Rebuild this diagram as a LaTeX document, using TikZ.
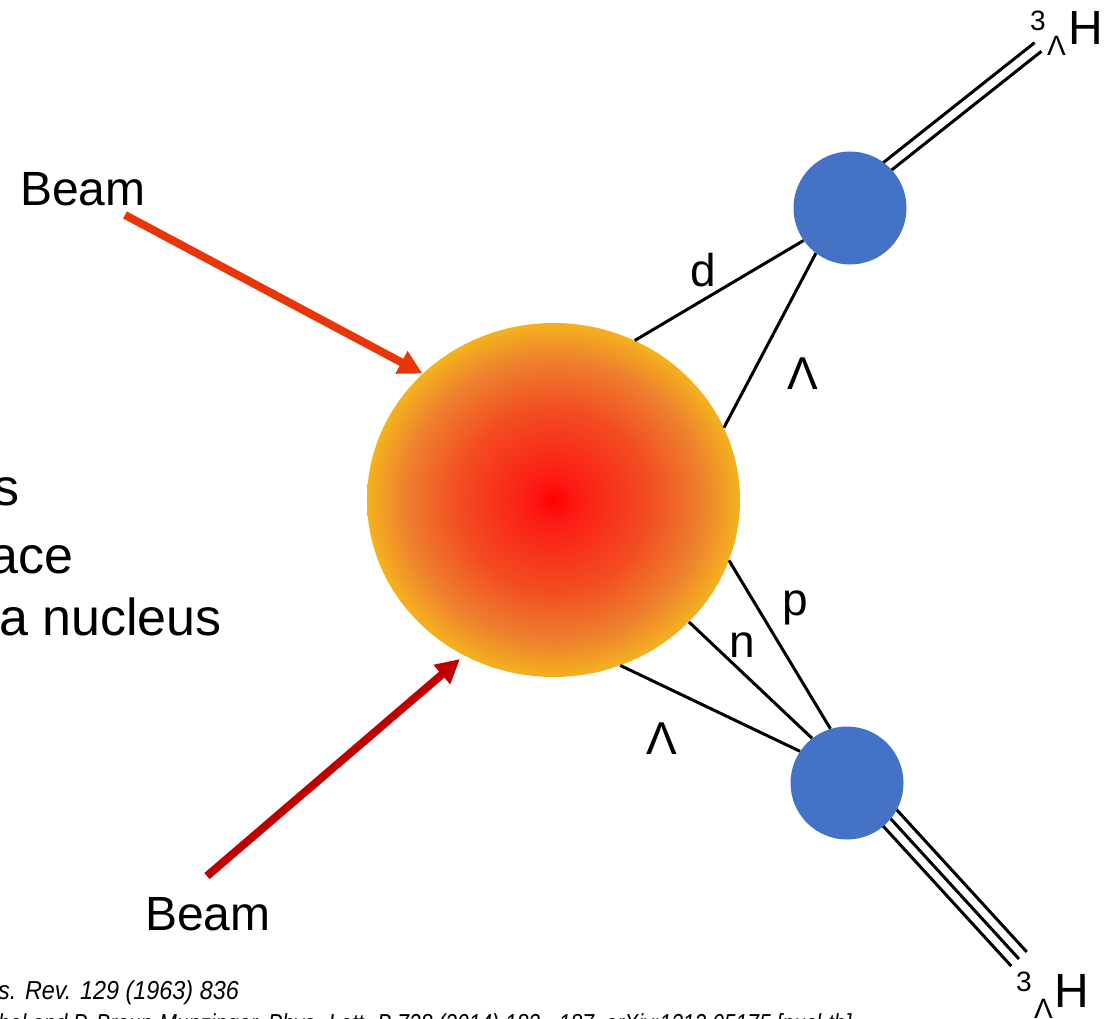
\documentclass[tikz,border=0pt]{standalone}
\usepackage{fontspec}
\usepackage{graphicx}
\setmainfont{Liberation Sans}
\usetikzlibrary{shapes.geometric,arrows.meta,calc,backgrounds}
\definecolor{fbA}{HTML}{FF0000}
\definecolor{fbB}{HTML}{FC1A14}
\definecolor{fbC}{HTML}{F24E22}
\definecolor{fbD}{HTML}{EE812E}
\definecolor{fbE}{HTML}{F4B21E}
\definecolor{nucblue}{HTML}{4472C4}
\definecolor{beamA}{HTML}{E8350A}
\definecolor{beamB}{HTML}{C00000}
\pgfdeclareradialshading{fireball}{\pgfpoint{0bp}{0bp}}{color(0bp)=(fbA); color(3bp)=(fbB); color(13bp)=(fbC); color(20bp)=(fbD); color(25bp)=(fbE); color(50bp)=(fbE)}
\begin{document}
\begin{tikzpicture}[x=1pt,y=-1pt,
  beamtext/.style={font=\fontsize{48}{58}\selectfont, inner sep=0pt},
  bigtext/.style={font=\fontsize{52}{62}\selectfont, inner sep=0pt},
  lbl/.style={font=\fontsize{46}{56}\selectfont, inner sep=0pt},
  htext/.style={font=\fontsize{48}{58}\selectfont, inner sep=0pt},
  suptext/.style={font=\fontsize{28}{32}\selectfont, inner sep=0pt},
  subtext/.style={font=\fontsize{28}{32}\selectfont, inner sep=0pt},
  citetext/.style={font=\fontsize{26}{30}\selectfont\itshape, inner sep=0pt},
  nuc/.style={circle, fill=nucblue, inner sep=0pt, minimum size=113pt},
  conn/.style={line width=3pt, black},
  beamarrow/.style={line width=8pt, -{Triangle[length=24pt,width=24pt]}}
]
\useasboundingbox (0,0) rectangle (1105,1019);
\clip (0,0) rectangle (1105,1019);

% fireball
\node[ellipse, shading=fireball, inner sep=0pt, minimum width=373pt, minimum height=354pt] (fb) at (553.5,500) {};

% hypertriton clusters
\node[nuc] (ht) at (850,208) {};
\node[nuc] (hb) at (847,783) {};

% outgoing lines (behind clusters)
\coordinate (hta) at (850,196);
\coordinate (htz) at (1038,47);
\coordinate (hba) at (847,771);
\coordinate (hbz) at (1019,959);
\begin{scope}[on background layer]
  \draw[conn] ($(hta)!5.5pt!90:(htz)$) -- ($(htz)!5.5pt!-90:(hta)$);
  \draw[conn] ($(hta)!5.5pt!-90:(htz)$) -- ($(htz)!5.5pt!90:(hta)$);
  \draw[conn] (hba) -- (hbz);
  \draw[conn] ($(hba)!10.5pt!90:(hbz)$) -- ($(hbz)!10.5pt!-90:(hba)$);
  \draw[conn] ($(hba)!10.5pt!-90:(hbz)$) -- ($(hbz)!10.5pt!90:(hba)$);
\end{scope}

% constituent lines
\draw[conn] (fb.63.3) -- (ht.215.4);
\draw[conn] (fb.23.4) -- (ht.233.7);
\draw[conn] (fb.-19.9) -- (hb.107);
\draw[conn] (fb.-42.8) -- (hb.128);
\draw[conn] (fb.-68) -- (hb.146.6);

% labels
\node[lbl, anchor=base] (ld) at (703,286) {d};
\node[lbl, anchor=base] (lL1) at (803,389) {Λ};
\node[lbl, anchor=base] (lp) at (795,615) {p};
\node[lbl, anchor=base] (ln) at (742,657) {n};
\node[lbl, anchor=base] (lL2) at (662,754) {Λ};

% hypertriton names
\node[htext, anchor=base west] (hH1) at (1068,45) {H};
\node[suptext, anchor=base west] (h31) at (1030,31) {3};
\node[subtext, anchor=base west] (hL1) at (1047,56) {Λ};
\node[htext, anchor=base west] (hH2) at (1054,1007) {H};
\node[suptext, anchor=base west] (h32) at (1016,991) {3};
\node[subtext, anchor=base west] (hL2) at (1034,1018) {Λ};

% beams
\node[beamtext, anchor=base west] (bA) at (20,205) {Beam};
\node[beamtext, anchor=base west] (bB) at (145,930) {Beam};
\coordinate (bAs) at (125,215);
\coordinate (bBs) at (207,876);
\draw[beamarrow, beamA] (bAs) -- (fb.136.3);
\draw[beamarrow, beamB] (bBs) -- (460,659);

% left text fragments
\node[bigtext, anchor=base west] (t1) at (-7,505) {s};
\node[bigtext, anchor=base west] (t2) at (-11,573) {ace};
\node[bigtext, anchor=base west] (t3) at (-1,635) {a nucleus};

% citations
\node[citetext, anchor=base west] (c1) at (-2,999) {\scalebox{0.9}[1]{s. Rev. 129 (1963) 836}};
\node[citetext, anchor=base west] (c2) at (-2,1032) {\scalebox{0.81}[1]{hel and P. Braun-Munzinger, Phys. Lett. B 728 (2014) 183 - 187, arXiv:1312.05175 [nucl-th]}};
\end{tikzpicture}
\end{document}
